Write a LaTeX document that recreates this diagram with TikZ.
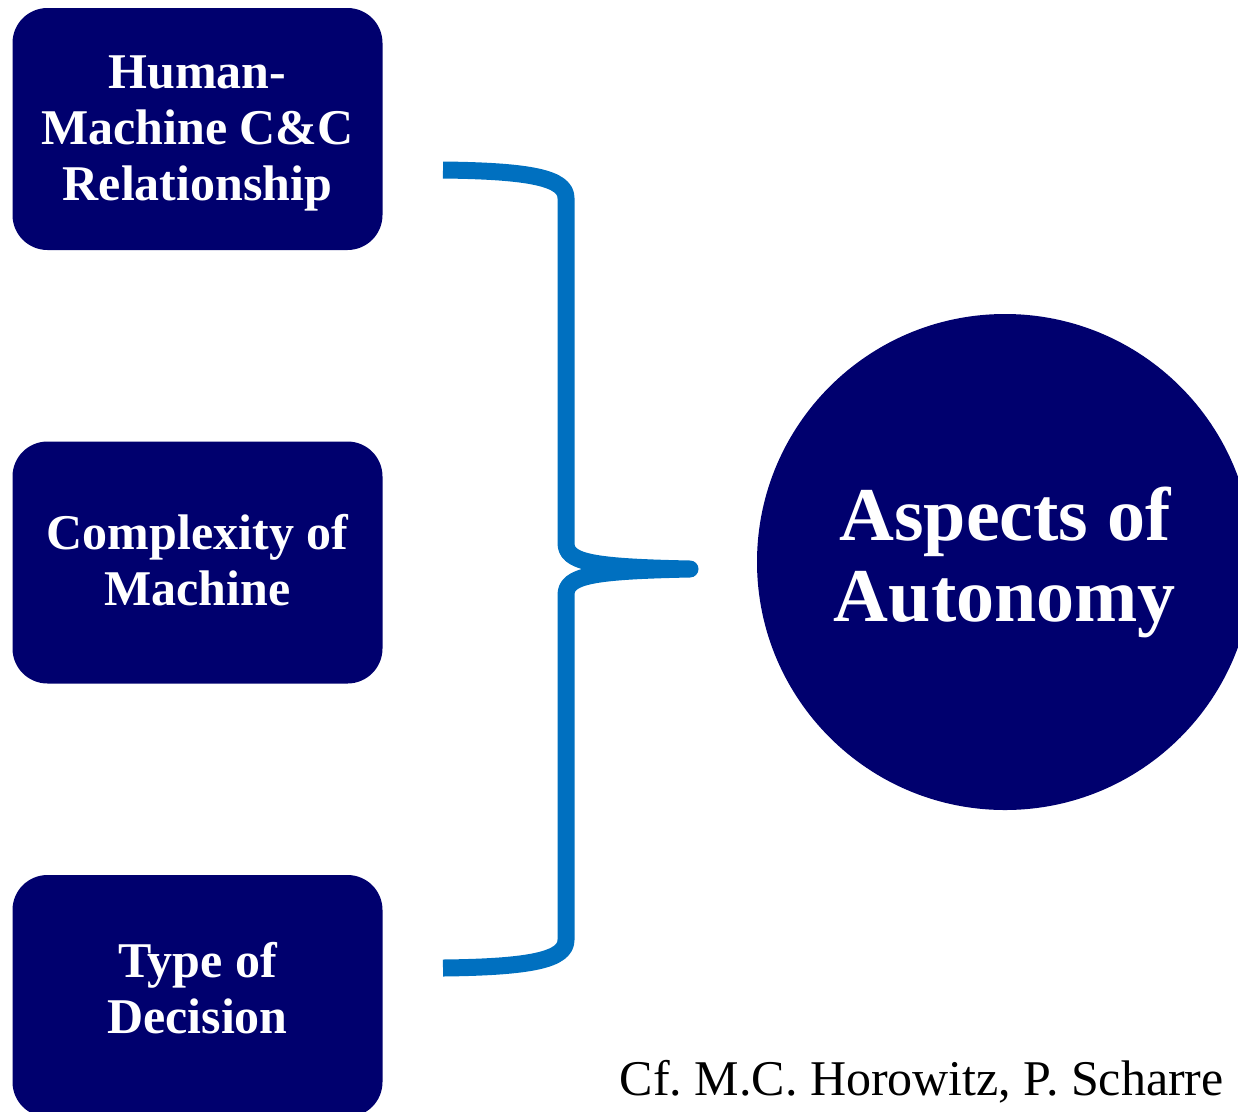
\documentclass[tikz,border=0pt]{standalone}
\usepackage{fontspec}
\setmainfont{Liberation Serif}
\frenchspacing
\definecolor{navybox}{RGB}{0,0,110}
\definecolor{braceblue}{RGB}{0,112,192}
\begin{document}
\begin{tikzpicture}[x=1pt,y=-1pt,
  aspectbox/.style={fill=navybox, draw=none, rounded corners=35pt,
    minimum width=370pt, minimum height=242pt, inner sep=0pt},
  boxtext/.style={text=white, align=center, inner sep=0pt,
    font=\fontsize{50}{56}\selectfont\bfseries},
  bigcircle/.style={circle, fill=navybox, draw=none, minimum size=496pt, inner sep=0pt,
    text=white, align=center, font=\fontsize{76}{81}\selectfont\bfseries},
  bracestyle/.style={draw=braceblue, line width=17pt, line join=round, line cap=butt},
  citestyle/.style={font=\fontsize{50}{56}\selectfont, inner sep=0pt, text=black}
]
\useasboundingbox (0,0) rectangle (1238,1111);
\clip (0,0) rectangle (1238,1111);

\node[aspectbox] (hm) at (197.5,129) {};
\node[aspectbox] (cm) at (197.5,562.5) {};
\node[aspectbox] (td) at (197.5,996) {};
\node[boxtext] (hmt) at (197.5,133) {Human-\\Machine C\&C\\Relationship};
\node[boxtext] (cmt) at (197.5,560) {Complexity of\\Machine};
\node[boxtext] (tdt) at (197.5,988) {Type of\\Decision};

\node[bigcircle] (aa) at (1005,562) {Aspects of\\Autonomy};

\coordinate (btop) at (443,170);
\coordinate (btip) at (690,569);
\coordinate (bbot) at (443,968);

\path[bracestyle] (btop) .. controls (530,171) and (566,178) .. (566,198)
  -- (566,543) .. controls (566,562) and (590,567) .. (btip)
  .. controls (590,571) and (566,576) .. (566,595)
  -- (566,940) .. controls (566,960) and (530,967) .. (bbot);

\node[citestyle, anchor=base east] (cite) at (1224,1095) {Cf. M.C. Horowitz, P. Scharre};
\end{tikzpicture}
\end{document}
